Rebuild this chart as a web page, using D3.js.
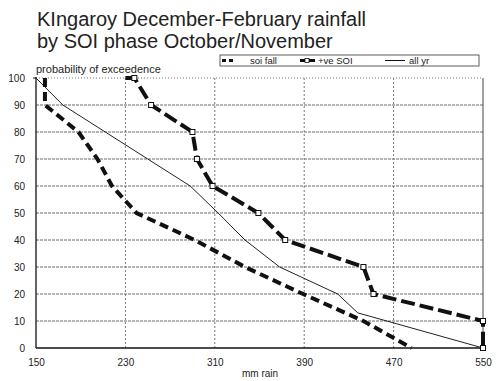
<!DOCTYPE html>
<html>
<head>
<meta charset="utf-8">
<script src="https://cdn.jsdelivr.net/npm/d3@7"></script>
<style>
  body { margin: 0; background: #fff; }
  text { font-family: "Liberation Sans", Arial, Helvetica, sans-serif; fill: #222; }
</style>
</head>
<body>
<svg id="chart" width="500" height="381"></svg>
<script>
// ---- data ----
const titleLines = ["KIngaroy December-February rainfall", "by SOI phase October/November"];
const xTicks = [150, 230, 310, 390, 470, 550];
const yTicks = [0, 10, 20, 30, 40, 50, 60, 70, 80, 90, 100];
const seriesNames = ["soi fall", "+ve SOI", "all yr"];
// [mm rain, probability of exceedence %]
const soiFall = [[158,100],[158,90],[188,80],[205,70],[218,60],[240,50],[292,40],[337,30],[389,20],[443,10],[486,0]];
const posSOI = [[230,100],[238,100],[253,90],[290,80],[294,70],[308,60],[349,50],[373,40],[443,30],[452,20],[550,10],[550,0]];
const allYr = [[150,100],[174,90],[212,80],[250,70],[288,60],[313,50],[337,40],[368,30],[420,20],[438,13],[550,0]];

const svg = d3.select("#chart");
const x = d3.scaleLinear().domain([150, 550]).range([36, 483]);
const y = d3.scaleLinear().domain([0, 100]).range([348, 78]);

// title
svg.selectAll("text.title").data(titleLines).enter().append("text")
  .attr("class", "title")
  .attr("x", 37).attr("y", (d, i) => 26 + i * 22)
  .style("font-size", "20px").text(d => d);

// gridlines
const g = svg.append("g");
g.selectAll("line.hg").data(yTicks.filter(v => v > 0 && v < 100)).enter().append("line")
  .attr("x1", x(150)).attr("x2", x(550))
  .attr("y1", d => y(d)).attr("y2", d => y(d))
  .attr("stroke", "#6a6a6a").attr("stroke-width", 1).attr("stroke-dasharray", "3,1");
g.append("line")
  .attr("x1", x(150)).attr("x2", x(550)).attr("y1", y(100)).attr("y2", y(100))
  .attr("stroke", "#777").attr("stroke-width", 1).attr("stroke-dasharray", "1,2");
g.selectAll("line.vg").data(xTicks.filter(v => v > 150 && v < 550)).enter().append("line")
  .attr("x1", d => x(d)).attr("x2", d => x(d))
  .attr("y1", y(100)).attr("y2", y(0))
  .attr("stroke", "#777").attr("stroke-width", 1).attr("stroke-dasharray", "2,2");
g.append("line")
  .attr("x1", x(550)).attr("x2", x(550)).attr("y1", y(100)).attr("y2", y(0))
  .attr("stroke", "#444").attr("stroke-width", 1);

// axes
const yAxis = d3.axisLeft(y).tickValues(yTicks).tickSize(0).tickPadding(11);
const xAxis = d3.axisBottom(x).tickValues(xTicks).tickSize(0).tickPadding(11);
const ya = svg.append("g").attr("transform", `translate(${x(150)},0)`).call(yAxis);
const xa = svg.append("g").attr("transform", `translate(0,${y(0)})`).call(xAxis);
[ya, xa].forEach(a => {
  a.select(".domain").remove();
  a.selectAll("text").style("font-size", "10px").attr("fill", "#222")
    .style("font-family", "'Liberation Sans', Arial, sans-serif");
});
svg.append("line").attr("x1", x(150)).attr("x2", x(150)).attr("y1", y(100) - 1).attr("y2", y(0))
  .attr("stroke", "#111").attr("stroke-width", 1.3);
svg.append("line").attr("x1", x(150)).attr("x2", x(550)).attr("y1", y(0)).attr("y2", y(0))
  .attr("stroke", "#111").attr("stroke-width", 1.3);
svg.append("line").attr("x1", x(150) - 3).attr("x2", x(150)).attr("y1", y(100)).attr("y2", y(100))
  .attr("stroke", "#111");

svg.append("text").attr("x", 36).attr("y", 73).style("font-size", "11px").text("probability of exceedence");
svg.append("text").attr("x", 260).attr("y", 377).attr("text-anchor", "middle").style("font-size", "10px").text("mm rain");

// series
const line = d3.line().x(d => x(d[0])).y(d => y(d[1]));
svg.append("path").datum(allYr).attr("d", line)
  .attr("fill", "none").attr("stroke", "#222").attr("stroke-width", 1);
svg.append("path").datum(soiFall).attr("d", line)
  .attr("fill", "none").attr("stroke", "#111").attr("stroke-width", 4).attr("stroke-dasharray", "9,5");
svg.append("path").datum(posSOI).attr("d", line)
  .attr("fill", "none").attr("stroke", "#111").attr("stroke-width", 4).attr("stroke-dasharray", "14,5");
svg.selectAll("rect.mk").data(posSOI.slice(1)).enter().append("rect")
  .attr("x", d => x(d[0]) - 2.5).attr("y", d => y(d[1]) - 2.5)
  .attr("width", 5).attr("height", 5)
  .attr("fill", "#fff").attr("stroke", "#111").attr("stroke-width", 1);

// legend
const lg = svg.append("g");
lg.append("rect").attr("x", 220).attr("y", 55).attr("width", 259).attr("height", 11)
  .attr("fill", "#fff").attr("stroke", "#333").attr("stroke-width", 0.8);
const ly = 60.5;
lg.append("line").attr("x1", 222).attr("x2", 233).attr("y1", ly).attr("y2", ly)
  .attr("stroke", "#111").attr("stroke-width", 3).attr("stroke-dasharray", "4,3");
lg.append("line").attr("x1", 300).attr("x2", 315).attr("y1", ly).attr("y2", ly)
  .attr("stroke", "#111").attr("stroke-width", 3);
lg.append("rect").attr("x", 305).attr("y", ly - 2).attr("width", 4).attr("height", 4)
  .attr("fill", "#fff").attr("stroke", "#111").attr("stroke-width", 0.8);
lg.append("line").attr("x1", 385).attr("x2", 405).attr("y1", ly).attr("y2", ly)
  .attr("stroke", "#111").attr("stroke-width", 1);
lg.selectAll("text.lt").data(seriesNames).enter().append("text")
  .attr("x", (d, i) => [250, 318, 409][i]).attr("y", ly + 3.5)
  .style("font-size", "9.5px").text(d => d);
</script>
</body>
</html>
